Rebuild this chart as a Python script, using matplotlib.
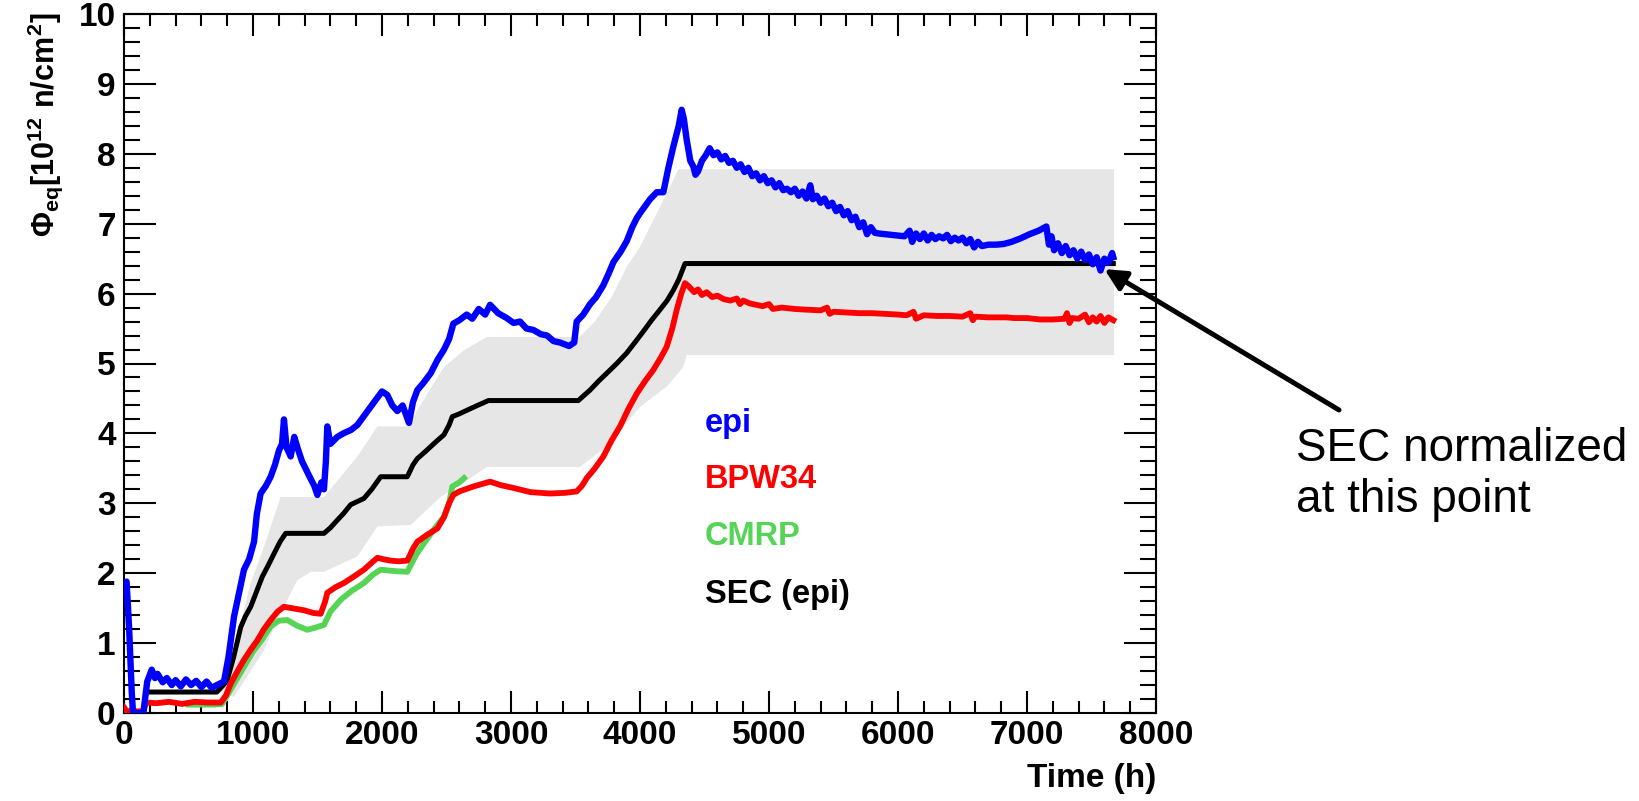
import matplotlib
matplotlib.use("Agg")
import matplotlib.pyplot as plt
from matplotlib.ticker import MultipleLocator

# ---------------- data ----------------
epi_t = [0, 20, 40, 60, 70, 150, 180, 215, 240, 260, 300, 332, 370, 400, 440, 480, 520, 560, 600,
         640, 680, 720, 775, 810, 853, 890,
         930, 970, 1008, 1030, 1059, 1100, 1137, 1170, 1202, 1225, 1240, 1260, 1292, 1320, 1344,
         1380, 1420, 1447, 1475, 1499, 1530, 1550, 1565, 1576, 1600, 1654, 1700, 1760, 1809, 1860,
         1912, 1960, 2000, 2041, 2080, 2119, 2160, 2209, 2240, 2274, 2320, 2377, 2430, 2481, 2520,
         2553, 2600, 2657, 2700, 2750, 2800, 2838, 2900, 2967, 3020, 3070, 3120, 3174, 3230, 3280,
         3330, 3380, 3450, 3490, 3509, 3560, 3613, 3660, 3716, 3760, 3794, 3850, 3897, 3940, 3975,
         4000, 4078, 4130, 4181, 4220, 4258, 4300, 4323, 4340, 4362, 4390, 4413, 4430,
         4450, 4480, 4510, 4540, 4570, 4600, 4630, 4660, 4690, 4720, 4750, 4780, 4810, 4840, 4870,
         4900, 4930, 4960, 4990, 5020, 5050, 5080, 5110, 5140, 5170, 5200, 5230, 5260, 5290, 5320,
         5340, 5370, 5400, 5430, 5460, 5490, 5520, 5550, 5580, 5610, 5640, 5670, 5700, 5730, 5760,
         5790, 5820, 5850, 5900, 5950, 6000, 6050, 6090, 6110, 6140, 6170, 6200, 6230, 6260, 6290,
         6320, 6350, 6380, 6410, 6440, 6470, 6500, 6530, 6560, 6590, 6620, 6650, 6700, 6760, 6820,
         6880, 6950, 7020, 7090, 7150, 7170, 7190, 7210, 7240, 7270, 7300, 7330, 7360, 7390, 7420,
         7450, 7480, 7510, 7540, 7570, 7600, 7630, 7660, 7669]
epi_v = [1.85, 1.88, 1.2, 0.3, 0.0, 0.0, 0.45, 0.62, 0.5, 0.56, 0.44, 0.5, 0.4, 0.47, 0.38, 0.48,
         0.4, 0.46, 0.37, 0.45, 0.36, 0.4, 0.45,
         0.8, 1.38, 1.7, 2.05, 2.2, 2.45, 2.85, 3.14, 3.25, 3.38, 3.55, 3.76, 3.85, 4.2, 3.8, 3.67,
         3.95, 3.8, 3.6, 3.45, 3.35, 3.25, 3.12, 3.3, 3.2, 3.6, 4.1, 3.85, 3.95, 4.0, 4.05, 4.12,
         4.25, 4.38, 4.5, 4.6, 4.55, 4.4, 4.32, 4.4, 4.15, 4.45, 4.62, 4.72, 4.86, 5.05, 5.2, 5.35,
         5.57, 5.62, 5.7, 5.64, 5.78, 5.7, 5.84, 5.72, 5.65, 5.58, 5.6, 5.5, 5.48, 5.42, 5.4,
         5.32, 5.3, 5.25, 5.3, 5.6, 5.7, 5.85,
         5.95, 6.12, 6.3, 6.45, 6.6, 6.75, 6.95, 7.08, 7.15, 7.35, 7.45, 7.45, 7.8, 8.1, 8.4, 8.63,
         8.5, 8.2, 7.9, 7.82, 7.7,
         7.75, 7.9, 7.98, 8.08, 7.98, 8.02, 7.92, 7.97, 7.87, 7.9, 7.8, 7.85, 7.74, 7.8, 7.68,
         7.72, 7.62, 7.68, 7.58, 7.62, 7.52, 7.58, 7.48, 7.5, 7.45, 7.5, 7.4, 7.46, 7.36, 7.55,
         7.35, 7.4, 7.3, 7.36, 7.25, 7.3, 7.18, 7.24, 7.12, 7.18, 7.05, 7.1, 6.95, 7.02, 6.85,
         6.95, 6.87, 6.86, 6.85, 6.84, 6.83, 6.82, 6.9, 6.74, 6.86, 6.78, 6.86, 6.76, 6.84, 6.78,
         6.82, 6.79, 6.84, 6.75, 6.8, 6.76, 6.8, 6.72, 6.78, 6.66, 6.74, 6.68, 6.7, 6.7, 6.71,
         6.74, 6.79, 6.85, 6.9, 6.96, 6.7, 6.82, 6.62, 6.72, 6.58, 6.68, 6.55, 6.62, 6.5, 6.6,
         6.48, 6.56, 6.42, 6.52, 6.33, 6.5, 6.44, 6.58, 6.52]

bpw_t = [0, 30, 60, 100, 150, 170, 250, 350, 450, 550, 650, 750, 790, 827, 880, 930, 980, 1034,
         1085, 1137, 1190, 1240, 1300, 1395, 1470, 1525, 1560, 1576, 1640, 1705, 1780, 1860, 1920,
         1964, 2010, 2067, 2130, 2196, 2240, 2274, 2350, 2429, 2480, 2520, 2553, 2600, 2708, 2838,
         2920, 3018, 3150, 3303, 3420, 3509, 3550, 3587, 3650, 3716, 3780, 3845, 3910, 3975, 4040,
         4104, 4160, 4207, 4250, 4285, 4320, 4349, 4380, 4420, 4450, 4480, 4517, 4560, 4600, 4650,
         4700, 4750, 4775, 4800, 4850, 4900, 4950, 5000, 5030, 5100, 5200, 5292, 5400, 5450, 5470,
         5500, 5600, 5700, 5800, 5900, 6000, 6067, 6120, 6140, 6200, 6300, 6400, 6500, 6560, 6580,
         6600, 6700, 6842, 6900, 7000, 7100, 7200, 7290, 7310, 7330, 7350, 7400, 7450, 7480, 7510,
         7540, 7570, 7600, 7630, 7669]
bpw_v = [0.08, 0.0, 0.05, 0.02, 0.03, 0.15, 0.14, 0.16, 0.13, 0.16, 0.15, 0.15, 0.25, 0.42, 0.6,
         0.76, 0.9, 1.04, 1.2, 1.33, 1.45, 1.52, 1.50, 1.47, 1.43, 1.42, 1.6, 1.72, 1.8, 1.86, 1.95,
         2.05, 2.15, 2.22, 2.2, 2.18, 2.17, 2.18, 2.35, 2.45, 2.55, 2.64, 2.8, 3.0, 3.12, 3.17, 3.24,
         3.31, 3.26, 3.22, 3.16, 3.14, 3.15, 3.17, 3.25, 3.36, 3.5, 3.67, 3.9, 4.1, 4.35, 4.57, 4.75,
         4.91, 5.08, 5.24, 5.5, 5.77, 6.0, 6.15, 6.1, 6.02, 6.06, 5.98, 6.02, 5.95, 5.97, 5.92,
         5.9, 5.93, 5.85, 5.9, 5.86, 5.84, 5.82, 5.85, 5.78, 5.8, 5.78, 5.77, 5.76, 5.8, 5.71,
         5.74, 5.73, 5.72, 5.72, 5.71, 5.7, 5.69, 5.74, 5.64, 5.69, 5.68, 5.68, 5.67, 5.72, 5.62,
         5.67, 5.66, 5.66, 5.65, 5.65, 5.63, 5.63, 5.64, 5.72, 5.58, 5.65, 5.64, 5.7, 5.59, 5.66,
         5.6, 5.68, 5.58, 5.66, 5.62]

cmrp_t = [500, 600, 700, 760, 800, 853, 930, 1000, 1070, 1137, 1200, 1266, 1340, 1421, 1480, 1550,
          1600, 1680, 1760, 1860, 1930, 1990, 2100, 2196, 2260, 2326, 2400, 2481, 2520, 2545, 2600,
          2636]
cmrp_v = [0.12, 0.12, 0.12, 0.13, 0.25, 0.42, 0.66, 0.88, 1.05, 1.24, 1.32, 1.33, 1.25, 1.19, 1.22,
          1.26, 1.45, 1.62, 1.74, 1.86, 1.98, 2.05, 2.03, 2.02, 2.25, 2.43, 2.62, 2.81, 3.0, 3.24,
          3.3, 3.36]

sec_t = [170, 720, 770, 800, 850, 905, 940, 982, 1030, 1072, 1120, 1163, 1210, 1253, 1550, 1600,
         1654, 1700, 1757, 1860, 1920, 1990, 2196, 2240, 2274, 2330, 2377, 2430, 2480, 2520, 2545,
         2600, 2657, 2740, 2825, 3522, 3570, 3613, 3680, 3742, 3820, 3897, 3960, 4026, 4090, 4155,
         4210, 4259, 4300, 4349, 7669]
sec_v = [0.3, 0.3, 0.4, 0.47, 0.8, 1.23, 1.38, 1.52, 1.75, 1.95, 2.12, 2.28, 2.45, 2.57, 2.57, 2.65,
         2.76, 2.85, 2.98, 3.07, 3.2, 3.38, 3.38, 3.55, 3.64, 3.73, 3.81, 3.9, 3.98, 4.12, 4.24,
         4.28, 4.33, 4.4, 4.47, 4.47, 4.55, 4.62, 4.75, 4.86, 5.0, 5.15, 5.3, 5.46, 5.62, 5.77, 5.9,
         6.05, 6.2, 6.43, 6.43]

band_up_t = [750, 850, 982, 1085, 1214, 1550, 1809, 1964, 2196, 2480, 2636, 2812, 3530, 3650,
             3780, 3897, 4000, 4078, 4207, 4297, 7674]
band_up_v = [0.3, 0.9, 1.86, 2.38, 3.09, 3.09, 3.67, 4.10, 4.10, 4.95, 5.19, 5.38, 5.38, 5.6, 5.95,
             6.38, 6.67, 6.96, 7.43, 7.78, 7.78]
band_lo_t = [750, 853, 1085, 1214, 1344, 1447, 1550, 1809, 1964, 2222, 2455, 2636, 2812, 3535,
             3742, 4000, 4207, 4336, 4362, 7674]
band_lo_v = [0.3, 0.23, 0.9, 1.43, 1.9, 2.02, 2.02, 2.24, 2.67, 2.69, 3.09, 3.3, 3.52, 3.52, 3.81,
             4.38, 4.67, 4.95, 5.12, 5.12]

legend_labels = ["epi", "BPW34", "CMRP", "SEC (epi)"]
legend_colors = ["#0000ff", "#ff0000", "#55d455", "#000000"]
x_ticks = [0, 1000, 2000, 3000, 4000, 5000, 6000, 7000, 8000]
y_ticks = list(range(0, 11))

# ---------------- drawing ----------------
plt.rcParams['font.family'] = ['Liberation Sans', 'DejaVu Sans']
plt.rcParams['font.weight'] = 'bold'
plt.rcParams['mathtext.fontset'] = 'custom'
plt.rcParams['mathtext.rm'] = 'Liberation Sans:bold'
plt.rcParams['mathtext.it'] = 'Liberation Sans:bold'
plt.rcParams['mathtext.bf'] = 'Liberation Sans:bold'

W, H = 1639, 801
fig = plt.figure(figsize=(W / 100, H / 100), dpi=100)
L, R, T, B = 124, 1156, 14, 713
ax = fig.add_axes([L / W, 1 - B / H, (R - L) / W, (B - T) / H])

# error band
poly_x = band_up_t + band_lo_t[::-1]
poly_y = band_up_v + band_lo_v[::-1]
ax.fill(poly_x, poly_y, color="#e6e6e6", lw=0, zorder=1)

lw = 3.6
ax.plot(sec_t, sec_v, color=legend_colors[3], lw=lw, zorder=3)
ax.plot(cmrp_t, cmrp_v, color=legend_colors[2], lw=lw + 0.6, zorder=4)
ax.plot(bpw_t, bpw_v, color=legend_colors[1], lw=lw + 0.6, zorder=5)
ax.plot(epi_t, epi_v, color=legend_colors[0], lw=lw + 1.0, zorder=6)

ax.set_xlim(0, 8000)
ax.set_ylim(0, 10)
ax.set_xticks(x_ticks)
ax.set_yticks(y_ticks)
ax.xaxis.set_minor_locator(MultipleLocator(200))
ax.yaxis.set_minor_locator(MultipleLocator(0.2))
ax.tick_params(which='both', direction='in', top=True, right=True, width=1.5,
               labelsize=24)
ax.xaxis.set_tick_params(which='major', length=16, pad=5)
ax.xaxis.set_tick_params(which='minor', length=8.5)
ax.yaxis.set_tick_params(which='major', length=23, pad=6)
ax.yaxis.set_tick_params(which='minor', length=11.5)
for s in ax.spines.values():
    s.set_linewidth(1.5)
for lab in ax.get_xticklabels() + ax.get_yticklabels():
    lab.set_fontweight('bold')

# axis titles
fig.text(45 / W, 1 - 12 / H, r'$\Phi_{eq}[10^{12}\ n/cm^{2}]$', rotation=90,
         ha='center', va='top', fontsize=22)
fig.text(R / W, 1 - 778 / H, 'Time (h)', ha='right', va='center', fontsize=24,
         fontweight='bold')

# legend-like text
legend_y = [432, 488, 545, 603]
for lab, col, yy in zip(legend_labels, legend_colors, legend_y):
    fig.text(705 / W, 1 - yy / H, lab, color=col, fontsize=23.5, fontweight='bold',
             ha='left', va='baseline')

# annotation
ax.annotate('', xy=(7600, 6.35), xycoords='data',
            xytext=(1339 / W, 1 - 410 / H), textcoords='figure fraction',
            arrowprops=dict(arrowstyle='-|>', lw=3.6, color='black', mutation_scale=32,
                            shrinkA=0, shrinkB=0),
            annotation_clip=False, zorder=10)
fig.text(1296 / W, 1 - 512 / H, 'SEC normalized\nat this point', fontsize=33,
         fontweight='normal', ha='left', va='baseline', linespacing=1.2,
         family=['Liberation Sans', 'DejaVu Sans'])

fig.savefig('out.png', dpi=100, facecolor='white')
